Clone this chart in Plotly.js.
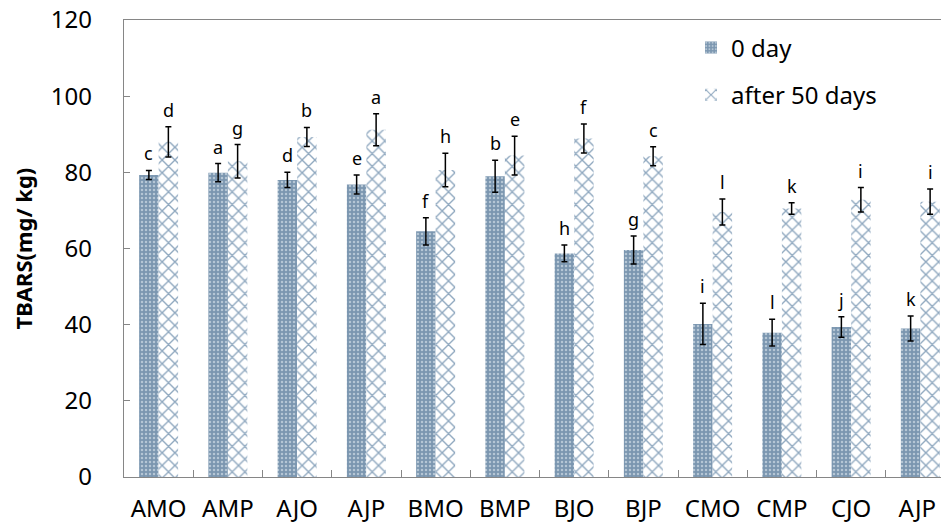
<!DOCTYPE html>
<html>
<head>
<meta charset="utf-8">
<script src="https://cdn.plot.ly/plotly-3.0.1.min.js"></script>
<style>html,body{margin:0;padding:0;overflow:hidden;background:#fff;}</style>
</head>
<body>
<div id="chart"></div>
<script>
const categories = ["AMO","AMP","AJO","AJP","BMO","BMP","BJO","BJP","CMO","CMP","CJO","AJP "];
const day0 = [79.3, 79.9, 78.0, 76.8, 64.5, 79.0, 58.7, 59.6, 40.2, 37.9, 39.4, 39.0];
const day0Err = [1.2, 2.4, 2.0, 2.5, 3.6, 4.2, 2.2, 3.7, 5.4, 3.5, 2.7, 3.3];
const day0Letters = ["c","a","d","e","f","b","h","g","i","l","j","k"];
const day50 = [88.0, 82.9, 89.3, 91.2, 80.6, 84.4, 88.9, 84.2, 69.6, 70.5, 72.8, 72.3];
const day50Err = [4.0, 4.4, 2.5, 4.2, 4.4, 5.1, 3.8, 2.5, 3.4, 1.5, 3.2, 3.3];
const day50Letters = ["d","g","b","a","h","e","f","c","l","k","i","i"];
const seriesNames = ["0 day", "after 50 days"];
const yTicks = [0, 20, 40, 60, 80, 100, 120];

const FONT = '"Noto Sans", "Open Sans", sans-serif';
const errStyle = {type: 'data', visible: true, color: '#000', thickness: 1.5, width: 3};

const traces = [
  {
    type: 'bar', name: seriesNames[0], x: categories, y: day0,
    error_y: Object.assign({array: day0Err}, errStyle),
    legendgroup: 'g0',
    marker: {color: '#7f99b2', line: {width: 0},
      pattern: {shape: '.', fillmode: 'replace', bgcolor: '#7b96b0', fgcolor: '#b5c6d5', size: 4, solidity: 0.3}}
  },
  {
    type: 'bar', name: seriesNames[1], x: categories, y: day50,
    error_y: Object.assign({array: day50Err}, errStyle),
    legendgroup: 'g1',
    marker: {color: '#ffffff', line: {width: 0},
      pattern: {shape: 'x', fillmode: 'replace', bgcolor: '#ffffff', fgcolor: '#8fa8bf', size: 9, solidity: 0.28}}
  }
];

const annotations = [];
const half = 9.75;
categories.forEach((c, i) => {
  annotations.push({x: c, y: day0[i] + day0Err[i], xref: 'x', yref: 'y', text: day0Letters[i],
    showarrow: false, xshift: -half, yshift: 3, yanchor: 'bottom', font: {family: FONT, size: 18, color: '#000'}});
  annotations.push({x: c, y: day50[i] + day50Err[i], xref: 'x', yref: 'y', text: day50Letters[i],
    showarrow: false, xshift: half, yshift: 3, yanchor: 'bottom', font: {family: FONT, size: 18, color: '#000'}});
});
annotations.push({xref: 'paper', yref: 'paper', x: -(124 - 22) / 831, y: 0.5, text: '<b>TBARS(mg/ kg)</b>',
  textangle: -90, showarrow: false, xanchor: 'center', yanchor: 'middle', font: {family: FONT, size: 22, color: '#000'}});

const layout = {
  width: 955, height: 527,
  margin: {l: 124, r: 0, t: 20, b: 50},
  paper_bgcolor: '#fff', plot_bgcolor: '#fff',
  font: {family: FONT, size: 24, color: '#000'},
  barmode: 'group', bargap: 0.437, bargroupgap: 0,
  showlegend: true,
  legend: {x: (691 - 124) / 831, y: 0.988, xanchor: 'left', yanchor: 'top', bgcolor: 'rgba(0,0,0,0)',
    traceorder: 'grouped', tracegroupgap: 13, font: {family: FONT, size: 24, color: '#000'}},
  xaxis: {type: 'category', showline: true, linecolor: '#868686', linewidth: 1.3, mirror: true,
    ticks: 'inside', tickson: 'boundaries', ticklen: 7, tickcolor: '#868686', tickwidth: 1,
    ticklabelstandoff: 10, showgrid: false, zeroline: false, tickfont: {family: FONT, size: 24, color: '#000'}},
  yaxis: {range: [0, 120], tickvals: yTicks, showline: true, linecolor: '#868686', linewidth: 1.3, mirror: true,
    ticks: 'inside', ticklen: 6, tickcolor: '#868686', tickwidth: 1, showgrid: false, zeroline: false,
    ticklabelstandoff: 26, tickfont: {family: FONT, size: 24, color: '#000'}},
  annotations: annotations
};

Plotly.newPlot('chart', traces, layout, {displayModeBar: false, staticPlot: true});
</script>
</body>
</html>
